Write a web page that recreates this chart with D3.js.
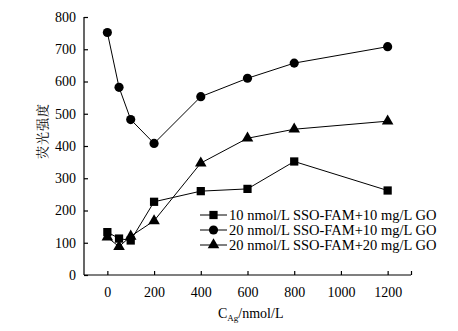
<!DOCTYPE html>
<html>
<head>
<meta charset="utf-8">
<script src="https://cdn.jsdelivr.net/npm/d3@7"></script>
<style>
  body { margin: 0; background: #fff; }
</style>
</head>
<body>
<div id="chart"></div>
<script>
// Data
const concentrations = [0, 50, 100, 200, 400, 600, 800, 1200];
const seriesNames = [
  "10 nmol/L SSO-FAM+10 mg/L GO",
  "20 nmol/L SSO-FAM+10 mg/L GO",
  "20 nmol/L SSO-FAM+20 mg/L GO"
];
const squareValues = [133, 113, 107, 227, 260, 267, 352, 262];
const circleValues = [752, 582, 482, 408, 553, 610, 657, 708];
const triangleValues = [117, 88, 120, 168, 347, 424, 452, 477];
const xTicks = [0, 200, 400, 600, 800, 1000, 1200];
const yTicks = [0, 100, 200, 300, 400, 500, 600, 700, 800];

const serif = "'Liberation Serif', 'Times New Roman', serif";

const W = 458, H = 331;
const margin = { top: 17, right: 47, bottom: 56, left: 84 };
const width = W - margin.left - margin.right;
const height = H - margin.top - margin.bottom;

const svg = d3.select("#chart")
  .append("svg")
  .attr("width", W)
  .attr("height", H);

const g = svg.append("g")
  .attr("transform", `translate(${margin.left},${margin.top})`);

// Scales
const x = d3.scaleLinear().domain([-100, 1300]).range([0, width]);
const y = d3.scaleLinear().domain([0, 800]).range([height, 0]);

// x axis, ticks pointing inward (extra unlabeled tick at the right end)
const xAxis = g.append("g")
  .attr("transform", `translate(0,${height})`)
  .call(d3.axisBottom(x).tickValues(xTicks.concat([1300])).tickSize(-4).tickPadding(12)
    .tickFormat((d) => (d === 1300 ? "" : d)));
xAxis.select(".domain").attr("d", `M0,0H${width}`);

// y axis, ticks pointing inward
const yAxis = g.append("g")
  .call(d3.axisLeft(y).tickValues(yTicks).tickSize(-4).tickPadding(8));
yAxis.select(".domain").attr("d", `M0,0V${height}`);

g.selectAll("g").attr("font-family", null);
g.selectAll(".tick text")
  .style("font-family", serif)
  .style("font-size", "14px")
  .attr("fill", "#000");
g.selectAll(".domain, .tick line").attr("stroke", "#000").attr("stroke-width", 1.2);

// Series
const series = [
  { name: seriesNames[0], values: squareValues, shape: d3.symbolSquare, size: 68 },
  { name: seriesNames[1], values: circleValues, shape: d3.symbolCircle, size: 66 },
  { name: seriesNames[2], values: triangleValues, shape: d3.symbolTriangle, size: 58 }
];

const line = d3.line()
  .x((d) => x(d.c))
  .y((d) => y(d.v));

series.forEach(function (s) {
  const pts = concentrations.map((c, i) => ({ c: c, v: s.values[i] }));
  g.append("path")
    .datum(pts)
    .attr("fill", "none")
    .attr("stroke", "#000")
    .attr("stroke-width", 1)
    .attr("d", line);
  g.selectAll(null)
    .data(pts)
    .enter()
    .append("path")
    .attr("d", d3.symbol().type(s.shape).size(s.size))
    .attr("transform", (d) => `translate(${x(d.c)},${y(d.v)})`)
    .attr("fill", "#000");
});

// Legend
const legend = svg.append("g").attr("transform", "translate(200,215)");
series.forEach(function (s, i) {
  const row = legend.append("g").attr("transform", `translate(0,${i * 15})`);
  row.append("line")
    .attr("x1", 0).attr("x2", 27)
    .attr("stroke", "#000").attr("stroke-width", 1);
  row.append("path")
    .attr("d", d3.symbol().type(s.shape).size(s.size))
    .attr("transform", "translate(13.5,0)")
    .attr("fill", "#000");
  row.append("text")
    .attr("x", 29)
    .attr("dy", "0.35em")
    .style("font-family", serif)
    .style("font-size", "14.5px")
    .text(s.name);
});

// Axis titles
const xTitle = svg.append("text")
  .attr("x", 218)
  .attr("y", 318)
  .style("font-family", serif)
  .style("font-size", "14px");
xTitle.append("tspan").text("C");
xTitle.append("tspan").attr("dy", 3).style("font-size", "9px").text("Ag");
xTitle.append("tspan").attr("dy", -3).text("/nmol/L");

svg.append("text")
  .attr("transform", "translate(42,131) rotate(-90)")
  .attr("text-anchor", "middle")
  .attr("dy", "0.35em")
  .style("font-family", "'Noto Serif CJK SC', 'Noto Sans CJK SC', serif")
  .style("font-size", "13px")
  .style("letter-spacing", "1px")
  .text("荧光强度");
</script>
</body>
</html>
